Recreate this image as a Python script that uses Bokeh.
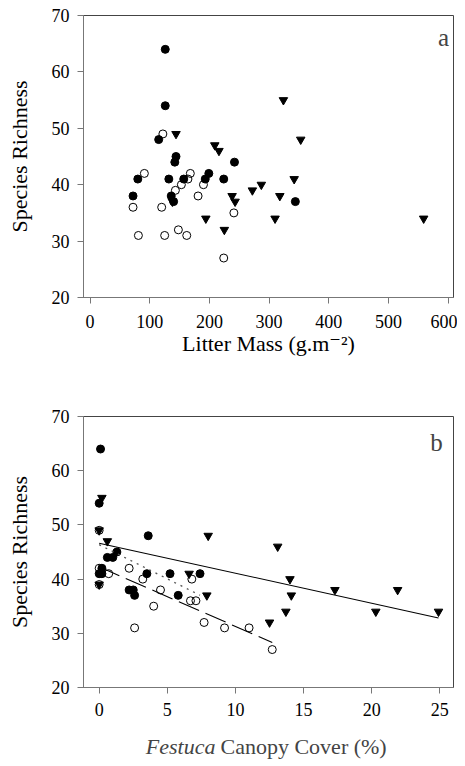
import numpy as np
from bokeh.plotting import figure
from bokeh.layouts import column
from bokeh.models import FixedTicker, Label, Range1d
from bokeh.embed import file_html
from bokeh.resources import INLINE

# ---------------- data: panel a (litter mass) ----------------
a_filled_x = [126, 126, 115, 144, 142, 242, 80, 132, 157, 199, 193, 224, 72, 136, 140, 344]
a_filled_y = [64, 54, 48, 45, 44, 44, 41, 41, 41, 42, 41, 41, 38, 38, 37, 37]
a_open_x = [122, 91, 168, 164, 153, 190, 143, 181, 72, 120, 241, 81, 125, 148, 162, 224]
a_open_y = [49, 42, 42, 41, 40, 40, 39, 38, 36, 36, 35, 31, 31, 32, 31, 27]
a_tri_x = [144, 209, 216, 324, 353, 342, 287, 272, 238, 243, 318, 138, 194, 310, 225, 559]
a_tri_y = [49, 47, 46, 55, 48, 41, 40, 39, 38, 37, 38, 37, 34, 34, 32, 34]

# ---------------- data: panel b (Festuca canopy cover) ----------------
b_filled_x = [0.1, 0, 3.6, 1.3, 0.6, 1.0, 0, 0.2, 0.2, 3.5, 5.2, 7.4, 2.2, 2.5, 2.6, 5.8]
b_filled_y = [64, 54, 48, 45, 44, 44, 41, 42, 41, 41, 41, 41, 38, 38, 37, 37]
b_open_x = [0, 0.7, 2.2, 3.2, 6.8, 4.5, 6.7, 7.1, 4.0, 2.6, 7.7, 9.2, 11.0, 12.7, 0, 0]
b_open_y = [42, 41, 42, 40, 40, 38, 36, 36, 35, 31, 32, 31, 31, 27, 39, 49]
b_tri_x = [0.2, 0.6, 8.0, 13.1, 14.0, 14.1, 13.7, 12.5, 17.3, 21.9, 20.3, 24.9, 6.6, 7.9, 0, 0]
b_tri_y = [55, 47, 48, 46, 40, 37, 34, 32, 38, 38, 34, 34, 41, 37, 49, 39]

y_ticks = [20, 30, 40, 50, 60, 70]
a_x_ticks = [0, 100, 200, 300, 400, 500, 600]
b_x_ticks = [0, 5, 10, 15, 20, 25]

FONT = "Liberation Serif, Times New Roman, DejaVu Serif, serif"
AX = "#777777"
LEFT = 83
RIGHT = 4


def style(p, xticks):
    p.outline_line_color = "#444444"
    p.outline_line_width = 1
    p.grid.visible = False
    p.xaxis.ticker = FixedTicker(ticks=xticks)
    p.yaxis.ticker = FixedTicker(ticks=y_ticks)
    for ax in (p.xaxis[0], p.yaxis[0]):
        ax.axis_line_color = AX
        ax.major_tick_line_color = AX
        ax.major_tick_out = 6
        ax.major_tick_in = 0
        ax.minor_tick_line_color = None
        ax.major_label_text_font = FONT
        ax.major_label_text_font_size = "18px"
        ax.major_label_text_color = "black"
        ax.major_label_standoff = 8
        ax.axis_label_text_font = FONT
        ax.axis_label_text_font_size = "22px"
        ax.axis_label_text_font_style = "normal"
        ax.axis_label_text_color = "black"
    p.xaxis.major_label_standoff = 9
    p.yaxis.axis_label = "Species Richness"
    p.yaxis.axis_label_standoff = 17


def markers(p, fx, fy, ox, oy, tx, ty):
    p.scatter(tx, ty, marker="inverted_triangle", size=8.5, fill_color="black", line_color="black")
    p.scatter(fx, fy, marker="circle", size=8, fill_color="black", line_color="black")
    p.scatter(ox, oy, marker="circle", size=8, fill_color=None, line_color="black", line_width=1)


# ---------------- panel a ----------------
p1 = figure(width=457, height=387, x_range=Range1d(-11, 609), y_range=Range1d(20, 70),
            output_backend="svg", toolbar_location=None,
            min_border_left=LEFT, min_border_right=RIGHT, min_border_top=15, min_border_bottom=90)
style(p1, a_x_ticks)
p1.xaxis.major_label_standoff = 11
p1.xaxis.axis_label = "Litter Mass (g.m\u207b\u00b2)"
p1.xaxis.axis_label_standoff = 0
markers(p1, a_filled_x, a_filled_y, a_open_x, a_open_y, a_tri_x, a_tri_y)
p1.add_layout(Label(x=609, y=70, x_offset=-10, y_offset=-22, text="a", text_align="center",
                    text_baseline="alphabetic", text_font=FONT, text_font_size="25px"))

# ---------------- panel b ----------------
p2 = figure(width=457, height=335, x_range=Range1d(-1.15, 26.0), y_range=Range1d(20, 70),
            output_backend="svg", toolbar_location=None,
            min_border_left=LEFT, min_border_right=RIGHT, min_border_top=29, min_border_bottom=35)
style(p2, b_x_ticks)
markers(p2, b_filled_x, b_filled_y, b_open_x, b_open_y, b_tri_x, b_tri_y)


def fit_line(xs, ys):
    xs = np.asarray(xs, float)
    ys = np.asarray(ys, float)
    k, c = np.polyfit(xs, ys, 1)
    lx = np.array([xs.min(), xs.max()])
    return lx, k * lx + c


lx, ly = fit_line(b_tri_x, b_tri_y)
p2.line(lx, ly, line_color="black", line_width=1.1)
lx, ly = fit_line(b_filled_x, b_filled_y)
p2.line(lx, ly, line_color="#555555", line_width=1.3, line_dash="2 5")
lx, ly = fit_line(b_open_x, b_open_y)
p2.line(lx, ly, line_color="black", line_width=1.1, line_dash="22 7")
p2.add_layout(Label(x=26.0, y=70, x_offset=-17, y_offset=-26, text="b", text_align="center",
                    text_baseline="alphabetic", text_font=FONT, text_font_size="25px"))

# ---------------- x-axis title strip for panel b (mixed italic / roman) ----------------
p3 = figure(width=457, height=40, x_range=p2.x_range, y_range=Range1d(0, 40),
            output_backend="svg", toolbar_location=None,
            min_border_left=LEFT, min_border_right=RIGHT, min_border_top=0, min_border_bottom=0)
p3.axis.visible = False
p3.grid.visible = False
p3.outline_line_color = None
xmid = (p2.x_range.start + p2.x_range.end) / 2
p3.add_layout(Label(x=xmid, y=16, x_offset=-53, text="Festuca", text_align="right",
                    text_baseline="alphabetic", text_font=FONT, text_font_size="22px",
                    text_font_style="italic"))
p3.add_layout(Label(x=xmid, y=16, x_offset=-48, text="Canopy Cover (%)", text_align="left",
                    text_baseline="alphabetic", text_font=FONT, text_font_size="22px"))

layout = column(p1, p2, p3, spacing=0)
open("out.html", "w").write(file_html(layout, INLINE))
